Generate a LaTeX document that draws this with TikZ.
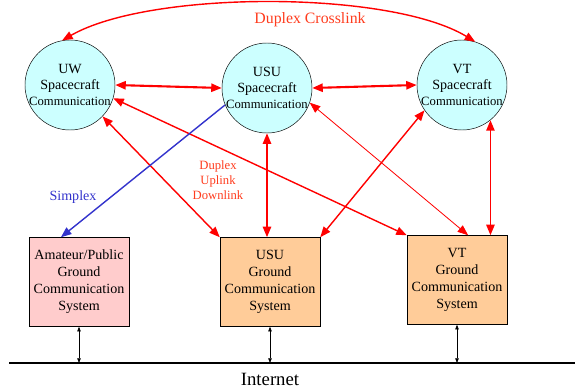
\documentclass[tikz,border=0pt]{standalone}
\usepackage{fontspec}
\setmainfont{Liberation Serif}
\usetikzlibrary{arrows.meta}

\definecolor{satcyan}{RGB}{204,255,255}
\definecolor{amapink}{RGB}{255,204,204}
\definecolor{gndorange}{RGB}{255,204,153}
\definecolor{lblred}{RGB}{255,60,30}
\definecolor{simblue}{RGB}{51,51,204}

\tikzset{
  sat/.style={circle,draw,fill=satcyan,minimum size=2.7cm,inner sep=-2mm,
    align=center,font=\fontsize{12}{14}\selectfont},
  gnd/.style={rectangle,draw,minimum width=3cm,minimum height=2.67cm,
    inner sep=0pt,align=center,font=\fontsize{12}{14.5}\selectfont},
  link/.style={<->,>={Triangle[length=9pt,width=7pt]},draw=red,line width=1.2pt},
  tie/.style={<->,>={Triangle[length=4pt,width=3pt]},line width=0.6pt}
}

\begin{document}
\begin{tikzpicture}[x=0.03cm,y=-0.03cm]
    \useasboundingbox (0,0) rectangle (575,390);
    % spacecraft
    \node[sat] (uw) at (70,85) {UW\\Spacecraft\\{\fontsize{10.8}{13}\selectfont Communication}};
    \node[sat] (usu) at (267,88) {USU\\Spacecraft\\{\fontsize{10.8}{13}\selectfont Communication}};
    \node[sat] (vt) at (462,85) {VT\\Spacecraft\\{\fontsize{10.8}{13}\selectfont Communication}};
    % ground stations
    \node[gnd,fill=amapink] (amat) at (79,282) {Amateur/Public\\Ground\\Communication\\System};
    \node[gnd,fill=gndorange] (usug) at (270,282) {USU\\Ground\\Communication\\System};
    \node[gnd,fill=gndorange] (vtg) at (457,280) {VT\\Ground\\Communication\\System};
    % internet
    \coordinate (net) at (9,363);
    \draw[line width=2pt] (net) -- (575,363);
    \node[font=\fontsize{16}{18}\selectfont] (internet) at (270,379) {Internet};
    \draw[tie] (amat.south) -- (amat.south |- net);
    \draw[tie] (usug.south) -- (usug.south |- net);
    \draw[tie] (vtg.south) -- (vtg.south |- net);
    % links
    \draw[link] (uw.100) .. controls (150,-10) and (390,-10) .. (vt.73);
    \draw[link,line width=1.8pt] (uw.east) -- (usu.west);
    \draw[link,line width=1.8pt] (usu.east) -- (vt.west);
    \draw[link] (uw.-17) -- (vtg.north west);
    \draw[link] (uw.-44) -- (usug.north west);
    \draw[link,line width=1.6pt] (usu.south) -- (usu.south |- usug.north);
    \draw[link,line width=0.7pt] (usu.-19) -- (vtg.76);
    \draw[link] (vt.-146) -- (usug.north east);
    \draw[link,line width=1.6pt] (vt.-51) -- (vt.-51 |- vtg.north);
    \draw[->,>={Triangle[length=9pt,width=7pt]},draw=simblue,line width=1.2pt] (usu.-158) -- (amat.112);
    % labels
    \node[text=lblred,font=\fontsize{13.5}{16}\selectfont] (cross) at (310,20) {Duplex Crosslink};
    \node[text=simblue,font=\fontsize{12}{14}\selectfont] (simplex) at (73,197) {Simplex};
    \node[text=lblred,align=center,font=\fontsize{10.8}{13}\selectfont] (duplex) at (218,180) {Duplex\\Uplink\\Downlink};
\end{tikzpicture}
\end{document}
